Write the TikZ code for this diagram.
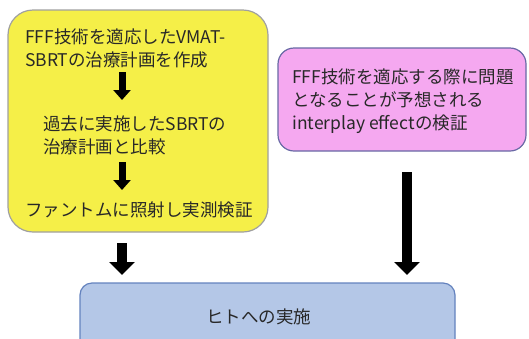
\documentclass[tikz,border=0pt]{standalone}
\usepackage{fontspec}
\setmainfont{Noto Sans CJK JP}
\usetikzlibrary{arrows.meta}
\definecolor{yel}{RGB}{245,239,72}
\definecolor{yelline}{RGB}{160,160,160}
\definecolor{pnk}{RGB}{245,168,240}
\definecolor{pnkline}{RGB}{105,105,165}
\definecolor{blu}{RGB}{180,199,231}
\definecolor{bluline}{RGB}{100,130,190}
\definecolor{txt}{RGB}{40,40,40}
\begin{document}
\begin{tikzpicture}[x=1pt,y=-1pt,
  font=\fontsize{17.5}{23}\selectfont,
  box/.style={draw, line width=1.2pt, inner sep=0pt},
  label/.style={inner sep=0pt, align=left, text=txt, anchor=west},
  smallarrow/.style={line width=7pt, -{Triangle[width=17pt,length=10pt]}},
  blockarrow/.style={line width=10pt, -{Triangle[width=25pt,length=13pt]}}]
\useasboundingbox (0,0) rectangle (529,338);
\clip (0,0) rectangle (529,338);
% boxes
\node[box, fill=yel, draw=yelline, rounded corners=25pt, minimum width=260pt, minimum height=222pt] (plan) at (138,121) {};
\node[box, fill=pnk, draw=pnkline, rounded corners=16pt, minimum width=248pt, minimum height=103pt] (check) at (402,99.5) {};
\node[box, fill=blu, draw=bluline, rounded corners=12pt, minimum width=375pt, minimum height=68pt] (human) at (267.5,317) {};
% texts
\node[label] (t1) at (25,48.5) {FFF技術を適応したVMAT-\\SBRTの治療計画を作成};
\node[label] (t2) at (43,135) {過去に実施したSBRTの\\治療計画と比較};
\node[label] (t3) at (25,210) {ファントムに照射し実測検証};
\node[label] (t4) at (292,101) {FFF技術を適応する際に問題\\となることが予想される\\interplay effectの検証};
\node[inner sep=0pt, text=txt] (t5) at (258.5,317) {ヒトへの実施};
% arrows
\coordinate (a1s) at (122,72);
\coordinate (a1e) at (122,100);
\coordinate (a2s) at (122,162);
\coordinate (a2e) at (122,190);
\coordinate (a3s) at (122,243);
\coordinate (a3e) at (122,275);
\coordinate (a4s) at (407,172);
\coordinate (a4e) at (407,275);
\draw[smallarrow] (a1s) -- (a1e);
\draw[smallarrow] (a2s) -- (a2e);
\draw[blockarrow] (a3s) -- (a3e);
\draw[blockarrow] (a4s) -- (a4e);
\end{tikzpicture}
\end{document}
